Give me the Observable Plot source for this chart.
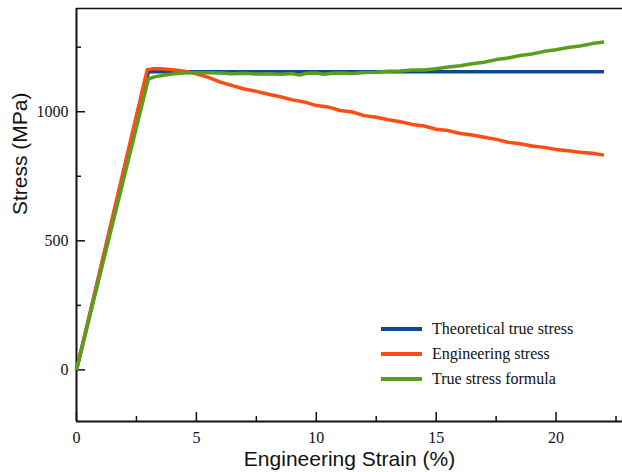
<!DOCTYPE html>
<html>
<head>
<meta charset="utf-8">
<script src="https://cdn.jsdelivr.net/npm/d3@7"></script>
<script src="https://cdn.jsdelivr.net/npm/@observablehq/plot@0.6"></script>
<style>
  html, body { margin: 0; padding: 0; background: #fff; }
  #wrap { position: relative; width: 622px; height: 472px; background: #fff; }
  #legend { position: absolute; left: 381px; top: 316px; font-family: "Liberation Serif", "Times New Roman", serif; font-size: 16px; color: #111; }
  #legend .row { display: flex; align-items: center; height: 25px; }
  #legend .sw { width: 41px; height: 4px; margin-right: 10px; }
</style>
</head>
<body>
<div id="wrap"><div id="legend"></div></div>
<script>
// Series names and colours
const seriesNames = ["Theoretical true stress", "Engineering stress", "True stress formula"];
const seriesColors = ["#0c4a8c", "#ff4b14", "#5a9e1e"];

// Theoretical true stress (strain %, stress MPa)
const blueX = [0, 3.0, 22];
const blueY = [0, 1155, 1155];

// Engineering stress
const orangeX = [0, 2.95, 3.2, 3.5, 4.0, 4.5, 5.0, 5.5, 6.0, 6.5, 7.0, 7.5, 8.0, 8.5, 9.0, 9.5, 10.0, 10.5, 11.0, 11.5, 12.0, 12.5, 13.0, 13.5, 14.0, 14.5, 15.0, 15.5, 16.0, 16.5, 17.0, 17.5, 18.0, 18.5, 19.0, 19.5, 20.0, 20.5, 21.0, 21.5, 22.0];
const orangeY = [0, 1163, 1167, 1167, 1163, 1157, 1147, 1133, 1115, 1101, 1088, 1079, 1068, 1058, 1046, 1038, 1024, 1018, 1005, 999, 985, 979, 969, 961, 951, 945, 932, 927, 916, 910, 901, 893, 882, 876, 867, 862, 854, 849, 843, 839, 832];

// True stress formula
const greenX = [0, 3.0, 3.3, 3.7, 4.0, 4.5, 5.0, 5.5, 6.0, 6.5, 7.0, 7.5, 8.0, 8.5, 9.0, 9.3, 9.6, 10.0, 10.3, 10.7, 11.0, 11.5, 12.0, 12.5, 13.0, 13.5, 14.0, 14.5, 15.0, 15.5, 16.0, 16.5, 17.0, 17.5, 18.0, 18.5, 19.0, 19.5, 20.0, 20.5, 21.0, 21.5, 22.0];
const greenY = [0, 1128, 1136, 1142, 1146, 1150, 1152, 1151, 1150, 1147, 1149, 1146, 1147, 1145, 1148, 1142, 1149, 1150, 1145, 1149, 1150, 1148, 1152, 1153, 1157, 1158, 1162, 1162, 1167, 1173, 1178, 1186, 1192, 1202, 1208, 1218, 1224, 1234, 1240, 1249, 1255, 1264, 1270];

// Axis ticks
const xMajor = [0, 5, 10, 15, 20];
const xMinor = [2.5, 7.5, 12.5, 17.5, 22.5];
const yMajor = [0, 500, 1000];
const yMinor = [250, 750, 1250];

const toRows = (xs, ys, name) => xs.map((x, i) => ({x, y: ys[i], name}));
const data = [
  ...toRows(blueX, blueY, seriesNames[0]),
  ...toRows(orangeX, orangeY, seriesNames[1]),
  ...toRows(greenX, greenY, seriesNames[2])
];

const W = 622, H = 472, mL = 76, mR = 0, mT = 8, mB = 51;
const fw = W - mL - mR, fh = H - mT - mB;
const fmt = d => String(d);
const serif = "Liberation Serif";
const sans = "Liberation Sans";

const chart = Plot.plot({
  width: W,
  height: H,
  marginLeft: mL,
  marginRight: mR,
  marginTop: mT,
  marginBottom: mB,
  x: {domain: [0, 22.77], axis: null},
  y: {domain: [-200, 1400], axis: null},
  color: {domain: seriesNames, range: seriesColors},
  marks: [
    // inward ticks
    Plot.ruleX(xMajor, {x: d => d, insetTop: fh - 9, stroke: "#111", strokeWidth: 1.5}),
    Plot.ruleX(xMinor, {x: d => d, insetTop: fh - 5, stroke: "#111", strokeWidth: 1.5}),
    Plot.ruleY(yMajor, {y: d => d, insetRight: fw - 9, stroke: "#111", strokeWidth: 1.5}),
    Plot.ruleY(yMinor, {y: d => d, insetRight: fw - 5, stroke: "#111", strokeWidth: 1.5}),
    // tick labels
    Plot.text(xMajor, {x: d => d, text: fmt, frameAnchor: "bottom", dy: 16, lineAnchor: "middle", fill: "#111", fontFamily: serif, fontSize: 16}),
    Plot.text(yMajor, {y: d => d, text: fmt, frameAnchor: "left", dx: -8, textAnchor: "end", fill: "#111", fontFamily: serif, fontSize: 16}),
    // axis titles
    Plot.text(["Engineering Strain (%)"], {frameAnchor: "bottom", dy: 38, fontSize: 21, fill: "#111", lineAnchor: "middle", fontFamily: sans}),
    Plot.text(["Stress (MPa)"], {frameAnchor: "left", dx: -56, rotate: -90, fontSize: 21, fill: "#111", fontFamily: sans}),
    // frame lines
    Plot.ruleY([-200], {stroke: "#111", strokeWidth: 2}),
    Plot.ruleY([1400], {stroke: "#111", strokeWidth: 1.5}),
    Plot.ruleX([0], {stroke: "#111", strokeWidth: 2}),
    // series
    Plot.line(data, {x: "x", y: "y", z: "name", stroke: "name", strokeWidth: 3.5, strokeLinejoin: "round", strokeLinecap: "butt"})
  ]
});

const wrap = document.getElementById("wrap");
wrap.insertBefore(chart, wrap.firstChild);

const legend = document.getElementById("legend");
seriesNames.forEach((n, i) => {
  const row = document.createElement("div");
  row.className = "row";
  const sw = document.createElement("div");
  sw.className = "sw";
  sw.style.background = seriesColors[i];
  const t = document.createElement("span");
  t.textContent = n;
  row.appendChild(sw);
  row.appendChild(t);
  legend.appendChild(row);
});
</script>
</body>
</html>
